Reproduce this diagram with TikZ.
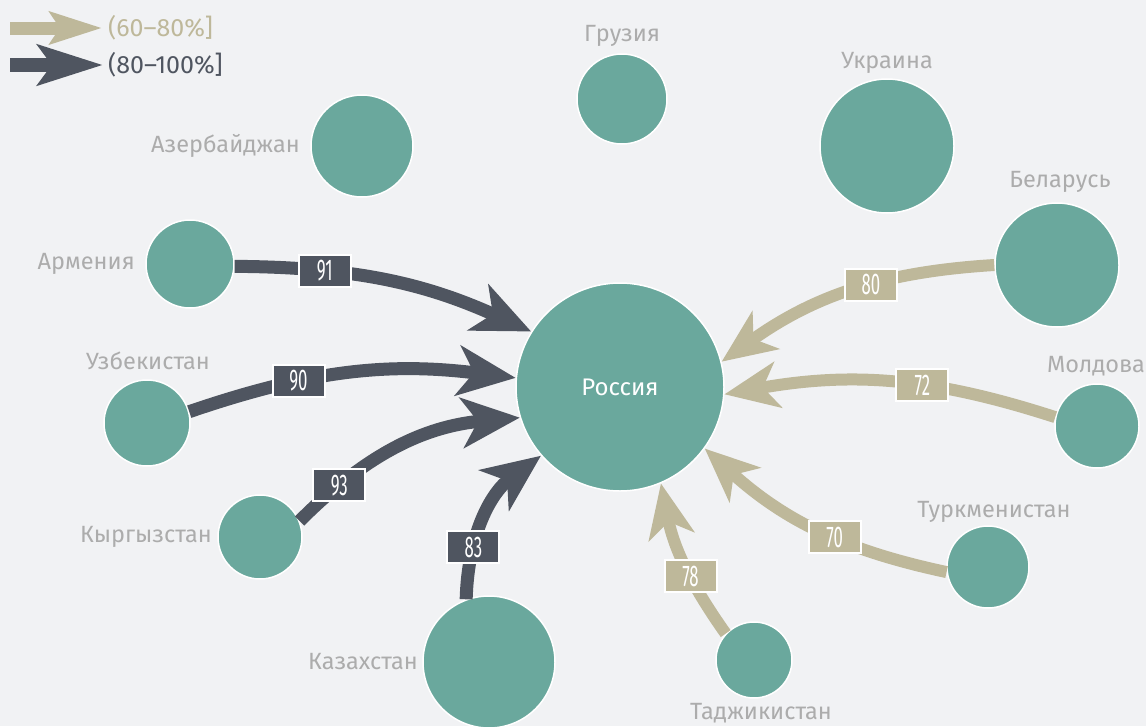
\documentclass[tikz,border=0pt]{standalone}
\usepackage{fontspec}
\setmainfont{Fira Sans}
\usepackage{graphicx}
\usetikzlibrary{arrows.meta,positioning}
\definecolor{cisbg}{RGB}{241,242,244}
\definecolor{cisteal}{RGB}{106,168,157}
\definecolor{cisdark}{RGB}{79,85,96}
\definecolor{cistan}{RGB}{190,184,154}
\definecolor{cisgray}{RGB}{172,172,172}
\newcommand{\flownum}[1]{\scalebox{0.56}[1]{#1}}
\tikzset{
  country/.style={circle,fill=cisteal,draw=white,line width=1.5pt,inner sep=0pt,minimum size=#1},
  cname/.style={text=cisgray,font=\fontsize{23.5}{26}\selectfont},
  flowhi/.style={draw=cisdark,line width=13pt,-{Stealth[length=58pt,width=50pt,inset=16pt]}},
  flowlo/.style={draw=cistan,line width=12pt,-{Stealth[length=54pt,width=46pt,inset=15pt]}},
  numbox/.style={fill=#1,draw=white,line width=2pt,minimum width=52pt,minimum height=32pt,inner sep=0pt,text=white,font=\fontsize{30}{30}\selectfont},
}

\begin{document}
\begin{tikzpicture}[x=1pt,y=-1pt]
  \useasboundingbox (0,0) rectangle (1146,726);
  \fill[cisbg] (0,0) rectangle (1146,726);

  % countries
  \node[country=208pt,text=white,font=\fontsize{24}{26}\selectfont] (russia) at (620,387) {Россия};
  \node[country=90pt]  (georgia) at (622,99) {};
  \node[country=134pt] (ukraine) at (887,146) {};
  \node[country=102pt] (azerb) at (362,146) {};
  \node[country=124pt] (belarus) at (1057,265) {};
  \node[country=88pt]  (armenia) at (190,264) {};
  \node[country=86pt]  (uzbek) at (147,423) {};
  \node[country=84pt]  (moldova) at (1097,426) {};
  \node[country=84pt]  (kyrgyz) at (260,537) {};
  \node[country=82pt]  (turkmen) at (988,567) {};
  \node[country=132pt] (kazakh) at (489,662) {};
  \node[country=76pt]  (tajik) at (754,660) {};

  % names
  \node[cname,above=3pt of georgia] {Грузия};
  \node[cname,above=1pt of ukraine] {Украина};
  \node[cname,left=7pt of azerb] {Азербайджан};
  \node[cname] at (1060,182) {Беларусь};
  \node[cname,left=7pt of armenia] {Армения};
  \node[cname] at (148,361) {Узбекистан};
  \node[cname] at (1096,366) {Молдова};
  \node[cname,left=2pt of kyrgyz] {Кыргызстан};
  \node[cname] at (994,512) {Туркменистан};
  \node[cname,left=1pt of kazakh] {Казахстан};
  \node[cname] at (761,713) {Таджикистан};

  % flows to Russia
  \draw[flowhi] (armenia.357) to[bend left=12] node[numbox=cisdark,pos=0.28] {\flownum{91}} (russia.148);
  \draw[flowhi] (uzbek.15) to[bend left=13] node[numbox=cisdark,pos=0.33] {\flownum{90}} (russia.175);
  \draw[flowhi] (kyrgyz.22) to[bend left=20] node[numbox=cisdark,pos=0.2] {\flownum{93}} (russia.197);
  \draw[flowhi] (kazakh.110) to[bend left=26] node[numbox=cisdark,pos=0.3] {\flownum{83}} (russia.221);
  \draw[flowlo] (belarus.180) to[bend right=16] node[numbox=cistan,pos=0.42] {\flownum{80}} (russia.14);
  \draw[flowlo] (moldova.168) to[bend right=14] node[numbox=cistan,pos=0.4] {\flownum{72}} (russia.356);
  \draw[flowlo] (turkmen.187) to[bend left=15] node[numbox=cistan,pos=0.42] {\flownum{70}} (russia.324);
  \draw[flowlo] (tajik.137) to[bend left=12] node[numbox=cistan,pos=0.4] {\flownum{78}} (russia.293);

  % legend
  \coordinate (leglo) at (10,28);
  \coordinate (leghi) at (10,65);
  \node[anchor=west,inner xsep=6pt,text=cistan,font=\fontsize{25}{26}\selectfont] (leglotext) at (102,28) {(60–80\%]};
  \node[anchor=west,inner xsep=5pt,text=cisdark,font=\fontsize{25}{26}\selectfont] (leghitext) at (103,65) {(80–100\%]};
  \draw[draw=cistan,line width=13pt,-{Stealth[length=52pt,width=32pt,inset=10pt]}] (leglo) -- (leglotext);
  \draw[draw=cisdark,line width=14pt,-{Stealth[length=65pt,width=40pt,inset=14pt]}] (leghi) -- (leghitext);
\end{tikzpicture}
\end{document}
